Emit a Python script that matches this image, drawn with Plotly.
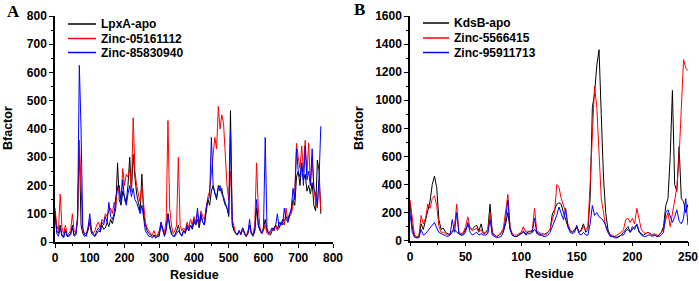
import plotly.graph_objects as go

# ---------------- Panel A data (residue step 5) ----------------
resA = list(range(0, 766, 5))
lpxa_apo = [100,40,30,60,25,20,45,20,25,30,60,25,30,90,340,60,30,20,25,40,
            70,30,25,20,30,40,35,60,45,50,70,55,80,65,90,120,280,150,130,180,
            160,140,200,300,180,310,230,170,140,110,240,100,60,40,30,25,20,25,15,20,
            30,60,40,25,50,100,60,30,20,25,40,60,30,25,40,35,50,40,60,45,
            70,60,80,50,90,70,60,110,150,130,180,200,170,150,200,180,190,150,130,120,
            90,465,60,40,30,25,40,30,50,35,20,30,60,30,25,40,120,60,40,30,
            50,80,40,30,25,40,50,60,45,70,60,80,70,90,80,100,110,150,130,230,
            250,200,280,220,240,180,200,170,210,130,110,290,250,100]
zinc_05161112 = [120,60,40,170,50,30,60,25,30,40,100,40,30,80,360,200,40,30,30,50,
                 80,40,30,40,60,70,50,80,70,100,90,110,120,100,140,130,200,180,150,260,
                 200,240,230,260,180,440,250,200,170,140,200,120,70,50,40,30,25,40,20,25,
                 40,70,50,30,80,430,120,60,30,40,60,300,60,40,50,40,70,50,80,60,
                 90,70,100,60,110,90,80,130,160,180,250,300,370,330,480,400,450,420,300,200,
                 150,250,80,50,30,30,40,30,40,30,20,40,50,30,30,60,280,120,50,30,
                 40,60,30,25,30,50,40,60,40,50,60,70,60,120,70,90,100,130,180,350,
                 300,260,340,250,360,240,350,200,300,190,140,120,220,110]
zinc_85830940 = [110,30,20,50,20,15,40,20,20,25,50,20,25,80,625,400,50,25,20,50,
                 100,40,30,20,40,50,40,70,60,90,70,140,90,80,100,160,190,200,140,220,
                 150,130,170,200,160,190,150,140,120,100,130,80,40,30,20,20,15,20,15,20,
                 20,70,40,20,40,100,50,30,20,20,30,40,30,20,40,30,60,40,60,50,
                 80,60,120,60,100,70,60,120,150,160,370,200,170,160,190,200,170,160,140,120,
                 100,395,70,40,30,25,40,25,50,30,20,30,80,30,20,40,150,60,40,30,
                 50,370,50,30,40,50,40,60,100,50,70,60,120,80,70,100,120,190,150,330,
                 250,230,280,200,340,220,250,200,330,190,170,130,230,410]

# ---------------- Panel B data (residue step 2) ----------------
resB = list(range(0, 251, 2))
kdsb_apo = [270,100,30,20,30,120,80,150,200,280,400,460,380,150,80,90,60,50,40,60,
            80,60,50,40,50,80,110,90,80,100,110,70,120,50,60,80,260,60,40,30,
            40,50,70,120,200,80,40,30,30,40,50,60,50,60,70,60,80,60,50,40,
            40,50,60,80,190,220,260,270,260,200,150,100,70,60,80,100,60,80,120,60,
            80,300,950,1050,1250,1360,900,450,200,80,40,30,30,25,30,40,60,80,100,60,
            80,100,110,60,50,40,50,60,50,40,40,30,40,60,100,250,300,600,1070,400,
            350,670,300,280,200,260]
zinc_5566415 = [290,150,40,30,30,180,120,160,260,230,300,320,250,100,60,60,50,40,50,70,
                100,260,60,50,60,100,170,90,70,80,90,60,80,50,50,60,200,50,40,30,
                40,60,90,200,330,100,50,40,40,50,60,100,60,70,60,80,230,70,60,50,
                50,40,60,80,150,200,400,380,300,250,200,120,80,60,70,90,60,70,100,80,
                100,400,750,1100,950,600,300,200,100,60,40,40,30,40,50,60,80,150,160,130,
                160,120,230,140,80,60,50,60,50,40,50,40,40,60,80,150,200,100,200,300,
                380,600,1000,1290,1230,1210]
zinc_95911713 = [200,60,25,20,20,80,40,50,70,90,110,130,90,60,50,40,35,30,40,150,
                 60,200,50,40,40,60,130,60,40,50,60,40,50,40,40,50,150,40,30,20,
                 25,30,60,150,290,80,40,30,30,40,50,70,40,50,50,60,160,50,40,40,
                 30,30,40,60,100,150,180,240,200,150,230,100,60,50,60,110,50,40,60,40,
                 40,120,250,180,200,170,160,140,110,60,30,30,20,20,30,40,40,70,80,60,
                 100,80,120,70,40,30,30,40,40,30,40,30,30,40,60,200,220,180,130,170,
                 220,140,120,160,300,110]

ticksA = [0, 100, 200, 300, 400, 500, 600, 700, 800]
ticksB_x = [0, 50, 100, 150, 200, 250]
ticksB_y = [0, 200, 400, 600, 800, 1000, 1200, 1400, 1600]

namesA = ["LpxA-apo", "Zinc-05161112", "Zinc-85830940"]
namesB = ["KdsB-apo", "Zinc-5566415", "Zinc-95911713"]
colors = ["black", "red", "blue"]

FONT = "Liberation Sans"
tickfont = dict(family=FONT, size=12, color="black", weight="bold")
W, H = 699, 281

fig = go.Figure()
for name, y, c in zip(namesA, [lpxa_apo, zinc_05161112, zinc_85830940], colors):
    fig.add_trace(go.Scatter(x=resA, y=y, mode="lines", name=name,
                             line=dict(color=c, width=1), xaxis="x", yaxis="y"))
for name, y, c in zip(namesB, [kdsb_apo, zinc_5566415, zinc_95911713], colors):
    fig.add_trace(go.Scatter(x=resB, y=y, mode="lines", name=name,
                             line=dict(color=c, width=1), xaxis="x2", yaxis="y2"))


def ax(domain, rng, ticks, dtick_minor, anchor):
    return dict(domain=domain, range=rng, tickvals=ticks, showgrid=False, zeroline=False,
                showline=True, linecolor="black", linewidth=1.5, ticks="outside",
                ticklen=4, tickwidth=1.2, tickcolor="black", tickfont=tickfont,
                anchor=anchor, mirror=False, automargin=False,
                minor=dict(ticks="outside", ticklen=2.5, tickwidth=1, tickcolor="black",
                           dtick=dtick_minor, showgrid=False))


shapes = []
annotations = []
# manual legends (paper coordinates)
for names, x0, x1, xt, ys in [(namesA, 68, 96, 99, [24, 38.5, 52.5]),
                              (namesB, 423, 449, 452, [23, 38, 52.5])]:
    for name, c, yy in zip(names, colors, ys):
        shapes.append(dict(type="line", xref="paper", yref="paper",
                           x0=x0 / W, x1=x1 / W, y0=1 - yy / H, y1=1 - yy / H,
                           line=dict(color=c, width=1.5)))
        annotations.append(dict(text=name, x=xt / W, y=1 - yy / H, xref="paper", yref="paper",
                                showarrow=False, xanchor="left", yanchor="middle",
                                font=dict(family=FONT, size=12, color="black", weight="bold")))

titlefont = dict(family=FONT, size=12.5, color="black", weight="bold")
for txt, x, y, ang in [("Residue", 195, 274.5, 0), ("Residue", 549, 274, 0),
                       ("Bfactor", 8, 128, -90), ("Bfactor", 359, 128, -90)]:
    annotations.append(dict(text=txt, x=x / W, y=1 - y / H, xref="paper", yref="paper",
                            showarrow=False, xanchor="center", yanchor="middle",
                            textangle=ang, font=titlefont))
for txt, x, y in [("A", 5, 12), ("B", 352, 10)]:
    annotations.append(dict(text=txt, x=x / W, y=1 - y / H, xref="paper", yref="paper",
                            showarrow=False, xanchor="left", yanchor="middle",
                            font=dict(family="Liberation Serif", size=17, color="black",
                                      weight="bold")))

fig.update_layout(
    width=W, height=H, margin=dict(l=0, r=0, t=0, b=0, autoexpand=False),
    paper_bgcolor="white", plot_bgcolor="white", showlegend=False,
    xaxis=ax([55 / W, 333 / W], [0, 800], ticksA, 50, "y"),
    yaxis=ax([1 - 242 / H, 1 - 16 / H], [0, 800], ticksA, 50, "x"),
    xaxis2=ax([410 / W, 688 / W], [0, 250], ticksB_x, 25, "y2"),
    yaxis2=ax([1 - 240.7 / H, 1 - 16 / H], [0, 1600], ticksB_y, 100, "x2"),
    shapes=shapes, annotations=annotations,
)
fig.write_html("out.html", config={"displayModeBar": False},
               post_script=("document.body.style.margin='0';document.body.style.padding='0';"
                            "document.body.style.overflow='hidden';"
                            "document.documentElement.style.overflow='hidden';"))
